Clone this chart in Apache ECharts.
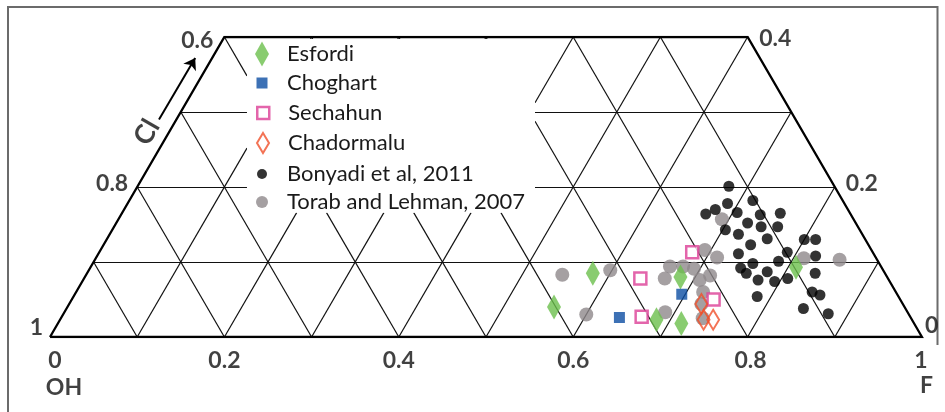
<!DOCTYPE html>
<html>
<head>
<meta charset="utf-8">
<script src="https://cdn.jsdelivr.net/npm/echarts@6.0.0/dist/echarts.min.js"></script>
<style>html,body{margin:0;padding:0;background:#fff}#c{width:945px;height:412px}</style>
</head>
<body>
<div id="c"></div>
<script>
// ---- data: ternary compositions as [F, Cl]  (OH = 1 - F - Cl) ----
const seriesNames = ['Esfordi', 'Choghart', 'Sechahun', 'Chadormalu', 'Bonyadi et al, 2011', 'Torab and Lehman, 2007'];
const esfordi = [[0.580,0.085],[0.558,0.040],[0.683,0.080],[0.684,0.023],[0.715,0.018],[0.809,0.093]];
const choghart = [[0.640,0.026],[0.696,0.057]];
const sechahun = [[0.638,0.078],[0.665,0.027],[0.680,0.113],[0.736,0.050]];
const chadormalu = [[0.725,0.044],[0.738,0.023],[0.749,0.023]];
const bonyadi = [
  [0.678,0.201],[0.715,0.182],[0.688,0.178],[0.678,0.170],[0.670,0.164],[0.705,0.166],
  [0.733,0.163],[0.755,0.165],[0.724,0.152],[0.703,0.143],[0.742,0.147],[0.761,0.147],
  [0.721,0.137],[0.757,0.131],[0.742,0.123],[0.734,0.111],[0.789,0.113],[0.785,0.101],
  [0.757,0.098],[0.746,0.092],[0.756,0.085],[0.779,0.087],[0.774,0.076],[0.794,0.074],
  [0.807,0.078],[0.784,0.054],[0.800,0.130],[0.813,0.130],[0.824,0.108],[0.835,0.085],
  [0.844,0.060],[0.855,0.056],[0.845,0.038],[0.877,0.031]
];
const torab = [
  [0.546,0.083],[0.598,0.089],[0.600,0.030],[0.664,0.094],[0.679,0.094],[0.666,0.078],
  [0.693,0.091],[0.707,0.076],[0.716,0.082],[0.719,0.060],[0.689,0.033],[0.693,0.116],
  [0.712,0.106],[0.692,0.157],[0.812,0.105],[0.854,0.103],[0.725,0.044],[0.736,0.025]
];
// ---- axis tick labels ----
const baseTicks = [0, 0.2, 0.4, 0.6, 0.8, 1];
const baseLabels = ['0', '0.2', '0.4', '0.6', '0.8', '1'];
const leftTicksCl = [0, 0.2, 0.4];
const leftLabels = ['1', '0.8', '0.6'];      // OH along the left edge
const rightTicksCl = [0, 0.2, 0.4];
const rightLabels = ['0', '0.2', '0.4'];     // Cl along the right edge
const CLMAX = 0.4;

// ternary -> cartesian (x along base, y = Cl)
const P = (f, cl) => [f + cl / 2, cl];
const toXY = arr => arr.map(d => P(d[0], d[1]));

// legend panel (white box that hides the lattice), in cartesian data units
const PANEL = { x0: 0.2259, x1: 0.5562, y0: 0.1658, y1: 0.3975 };
function cutSegment(a, b, r) {
  const dx = b[0] - a[0], dy = b[1] - a[1];
  let t0 = 0, t1 = 1;
  const p = [-dx, dx, -dy, dy];
  const q = [a[0] - r.x0, r.x1 - a[0], a[1] - r.y0, r.y1 - a[1]];
  for (let i = 0; i < 4; i++) {
    if (Math.abs(p[i]) < 1e-12) { if (q[i] < 0) return [[a, b]]; }
    else {
      const t = q[i] / p[i];
      if (p[i] < 0) { if (t > t0) t0 = t; } else { if (t < t1) t1 = t; }
    }
  }
  if (t0 >= t1) return [[a, b]];
  const at = t => [a[0] + dx * t, a[1] + dy * t];
  const out = [];
  if (t0 > 1e-6) out.push([a.slice(), at(t0)]);
  if (t1 < 1 - 1e-6) out.push([at(t1), b.slice()]);
  return out;
}

// lattice lines
const rawLines = [];
for (let i = 1; i <= 3; i++) { const c = i / 10; rawLines.push([P(0, c), P(1 - c, c)]); }
for (let i = 1; i <= 9; i++) { const f = i / 10; const t = Math.min(CLMAX, 1 - f); rawLines.push([P(f, 0), P(f, t)]); }
for (let i = 1; i <= 9; i++) { const o = i / 10; const t = Math.min(CLMAX, 1 - o); rawLines.push([P(1 - o, 0), P(1 - o - t, t)]); }
const gridLines = [];
rawLines.forEach(s => cutSegment(s[0], s[1], PANEL).forEach(seg => gridLines.push({ coords: seg })));
const outline = [{ coords: [P(0, 0), P(1, 0), P(1 - CLMAX, CLMAX), P(0, CLMAX), P(0, 0)] }];

const FONT = 'Lato';
const boldLabel = { fontFamily: FONT, fontWeight: 'bold', fontSize: 23, color: '#111' };

const baseDx = [5, 0, 0, 0, 3, -1];
const leftOff = [[-7, -9], [-9, -3], [-11, 4]];
const rightOff = [[3, -11], [11, -3], [11.6, 2]];

function textSeries(data) {
  return {
    type: 'scatter', silent: true, symbolSize: 1, itemStyle: { color: 'rgba(0,0,0,0)' },
    z: 6, data: data
  };
}

const baseLabelData = baseTicks.map((v, i) => ({
  value: P(v, 0), name: baseLabels[i],
  label: Object.assign({ show: true, position: 'inside', formatter: '{b}', align: 'center', offset: [baseDx[i], 24] }, boldLabel)
}));
const leftLabelData = leftTicksCl.map((c, i) => ({
  value: P(0, c), name: leftLabels[i],
  label: Object.assign({ show: true, position: 'inside', formatter: '{b}', align: 'right', offset: leftOff[i] }, boldLabel)
}));
const rightLabelData = rightTicksCl.map((c, i) => ({
  value: P(1 - c, c), name: rightLabels[i],
  label: Object.assign({ show: true, position: 'inside', formatter: '{b}', align: 'left', offset: rightOff[i] }, boldLabel)
}));
const cornerData = [
  { value: P(0, 0), name: 'OH', label: Object.assign({ show: true, position: 'inside', formatter: '{b}', align: 'center', offset: [14, 51] }, boldLabel) },
  { value: P(1, 0), name: 'F', label: Object.assign({ show: true, position: 'inside', formatter: '{b}', align: 'center', offset: [4.5, 49] }, boldLabel) },
  { value: [0.1112, 0.273], name: 'Cl', label: Object.assign({ show: true, position: 'inside', formatter: '{b}', align: 'center', rotate: 60 }, boldLabel, { fontSize: 27 }) }
];

const styles = {
  'Esfordi': { symbol: 'diamond', size: [14, 25], item: { color: '#6bbf4c' }, legendW: 14, legendH: 25 },
  'Choghart': { symbol: 'rect', size: 11, item: { color: '#0d4ea3' }, legendW: 11, legendH: 11 },
  'Sechahun': { symbol: 'rect', size: 12, item: { color: '#ffffff', borderColor: '#dc3f96', borderWidth: 2.5 }, legendW: 12, legendH: 12 },
  'Chadormalu': { symbol: 'diamond', size: [12, 20], item: { color: 'rgba(255,255,255,0)', borderColor: '#f0502a', borderWidth: 2 }, legendW: 12, legendH: 20 },
  'Bonyadi et al, 2011': { symbol: 'circle', size: 11, item: { color: '#000000' }, legendW: 10, legendH: 10 },
  'Torab and Lehman, 2007': { symbol: 'circle', size: 14, item: { color: '#8f888b' }, legendW: 12, legendH: 12 }
};
const seriesData = {
  'Esfordi': esfordi, 'Choghart': choghart, 'Sechahun': sechahun, 'Chadormalu': chadormalu,
  'Bonyadi et al, 2011': bonyadi, 'Torab and Lehman, 2007': torab
};
const drawOrder = ['Torab and Lehman, 2007', 'Bonyadi et al, 2011', 'Esfordi', 'Choghart', 'Sechahun', 'Chadormalu'];
const legendCY = [54, 83, 113, 143, 174, 202];

const pointSeries = drawOrder.map((n, k) => ({
  name: n, type: 'scatter', symbol: styles[n].symbol, symbolSize: styles[n].size,
  itemStyle: styles[n].item, data: toXY(seriesData[n]), z: 3 + k * 0.01, silent: true
}));

const LINEH = 24;
const legends = seriesNames.map((n, i) => {
  const s = styles[n];
  const H = Math.max(s.legendH, LINEH);
  return {
    data: [{ name: n, icon: s.symbol, itemStyle: s.item }],
    orient: 'vertical', padding: 0, z: 20,
    left: 262 - s.legendW / 2, top: legendCY[i] - H / 2,
    itemWidth: s.legendW, itemHeight: s.legendH,
    selectedMode: false,
    textStyle: { fontFamily: FONT, fontSize: 22, color: '#1a1a1a', lineHeight: LINEH, padding: [0, 0, 0, 20 - s.legendW / 2] }
  };
});

// white panel behind the legend (drawn above the lattice)
const panelSeries = {
  type: 'custom', silent: true, z: 2, coordinateSystem: 'cartesian2d',
  data: [[PANEL.x0, PANEL.y0, PANEL.x1, PANEL.y1]],
  renderItem: function (params, api) {
    const p0 = api.coord([api.value(0), api.value(3)]);
    const p1 = api.coord([api.value(2), api.value(1)]);
    return { type: 'rect', shape: { x: p0[0], y: p0[1], width: p1[0] - p0[0], height: p1[1] - p0[1] }, style: { fill: '#ffffff' } };
  }
};

const chart = echarts.init(document.getElementById('c'), null, { renderer: 'canvas' });
chart.setOption({
  animation: false,
  backgroundColor: '#ffffff',
  grid: { left: 50, right: 23, top: 37, bottom: 75, containLabel: false },
  xAxis: { type: 'value', min: 0, max: 1, show: false },
  yAxis: { type: 'value', min: 0, max: CLMAX, show: false },
  legend: legends,
  graphic: {
    elements: [
      { type: 'polyline', silent: true, shape: { points: [[937.5, 345], [937.5, 7], [8, 7], [8, 412]] }, style: { stroke: '#6b6b6b', lineWidth: 2, fill: null } }
    ]
  },
  series: [
    { type: 'lines', coordinateSystem: 'cartesian2d', silent: true, z: 1, lineStyle: { color: '#111', width: 1.2, opacity: 1 }, data: gridLines },
    { type: 'lines', coordinateSystem: 'cartesian2d', silent: true, z: 1, polyline: true, lineStyle: { color: '#000', width: 2.3, opacity: 1 }, data: outline },
    { type: 'lines', coordinateSystem: 'cartesian2d', silent: true, z: 1, symbol: ['none', 'arrow'], symbolSize: 11,
      lineStyle: { color: '#000', width: 2, opacity: 1 }, data: [{ coords: [[0.125, 0.290], [0.1665, 0.372]] }] },
    panelSeries,
    ...pointSeries,
    textSeries(baseLabelData), textSeries(leftLabelData), textSeries(rightLabelData), textSeries(cornerData)
  ]
});
</script>
</body>
</html>
